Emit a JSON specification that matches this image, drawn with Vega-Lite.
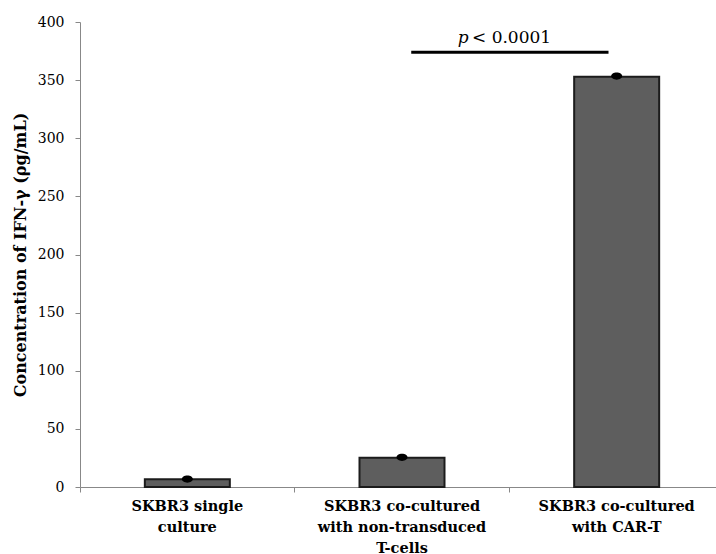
{
  "$schema": "https://vega.github.io/schema/vega-lite/v6.json",
  "autosize": {"type": "none"},
  "width": 636,
  "height": 465,
  "padding": {"left": 80, "top": 22, "right": 0, "bottom": 67},
  "background": "white",
  "config": {
    "view": {"stroke": null},
    "font": "DejaVu Serif"
  },
  "datasets": {
    "bars": [
      {"group": "SKBR3 single|culture", "value": 6.6, "err": 6.8},
      {"group": "SKBR3 co-cultured|with non-transduced|T-cells", "value": 25.2, "err": 25.5},
      {"group": "SKBR3 co-cultured|with CAR-T", "value": 353, "err": 353.5}
    ],
    "sig": [
      {"x1": 1.543, "x2": 2.462, "y": 374, "tx": 1.81, "tx2": 1.826, "ty": 382}
    ]
  },
  "layer": [
    {
      "layer": [
        {
          "data": {"name": "bars"},
          "mark": {"type": "bar", "fill": "#5e5e5e", "stroke": "#1c1c1c", "strokeWidth": 2, "width": 85},
          "encoding": {
            "x": {
              "field": "group", "type": "nominal", "sort": null,
              "scale": {"range": [0, 644], "paddingInner": 0, "paddingOuter": 0},
              "axis": {
                "title": null,
                "labelAngle": 0,
                "labelExpr": "split(datum.label, '|')",
                "labelFont": "DejaVu Serif",
                "labelFontWeight": "bold",
                "labelFontSize": 14.5,
                "labelColor": "black",
                "labelLineHeight": 21,
                "labelPadding": 7,
                "labelBaseline": "top",
                "bandPosition": 0,
                "tickSize": 5,
                "tickColor": "#888888",
                "domainColor": "#888888",
                "domainWidth": 1,
                "labelBound": false,
                "labelOverlap": false
              }
            },
            "y": {
              "field": "value", "type": "quantitative",
              "scale": {"domain": [0, 400], "nice": false},
              "axis": {
                "title": "Concentration of IFN-γ (ρg/mL)",
                "titleFont": "DejaVu Serif",
                "titleFontWeight": "bold",
                "titleFontSize": 16,
                "titleColor": "black",
                "titlePadding": 9,
                "values": [0, 50, 100, 150, 200, 250, 300, 350, 400],
                "labelFont": "DejaVu Serif",
                "labelFontSize": 14,
                "labelColor": "black",
                "labelPadding": 11,
                "tickSize": 5,
                "tickColor": "#888888",
                "domainColor": "#888888",
                "grid": false
              }
            }
          }
        },
        {
          "data": {"name": "bars"},
          "mark": {"type": "point", "filled": true, "color": "black", "opacity": 1, "shape": "M-1,0A1,0.65 0 1,0 1,0A1,0.65 0 1,0 -1,0Z", "size": 121},
          "encoding": {
            "x": {"field": "group", "type": "nominal", "sort": null},
            "y": {"field": "err", "type": "quantitative"}
          }
        }
      ]
    },
    {
      "data": {"name": "sig"},
      "layer": [
        {
          "mark": {"type": "rule", "color": "black", "strokeWidth": 3},
          "encoding": {
            "x": {"field": "x1", "type": "quantitative", "scale": {"domain": [0, 3], "range": [0, 644]}, "axis": null},
            "x2": {"field": "x2"},
            "y": {"field": "y", "type": "quantitative", "scale": {"domain": [0, 400]}, "axis": null}
          }
        },
        {
          "mark": {"type": "text", "text": "p", "font": "DejaVu Serif", "fontStyle": "italic", "fontSize": 17, "align": "right", "baseline": "alphabetic", "color": "black"},
          "encoding": {
            "x": {"field": "tx", "type": "quantitative"},
            "y": {"field": "ty", "type": "quantitative"}
          }
        },
        {
          "mark": {"type": "text", "text": "< 0.0001", "font": "DejaVu Serif", "fontSize": 17, "align": "left", "baseline": "alphabetic", "color": "black"},
          "encoding": {
            "x": {"field": "tx2", "type": "quantitative"},
            "y": {"field": "ty", "type": "quantitative"}
          }
        }
      ]
    }
  ],
  "resolve": {"scale": {"x": "independent", "y": "shared"}, "axis": {"x": "independent", "y": "independent"}}
}
